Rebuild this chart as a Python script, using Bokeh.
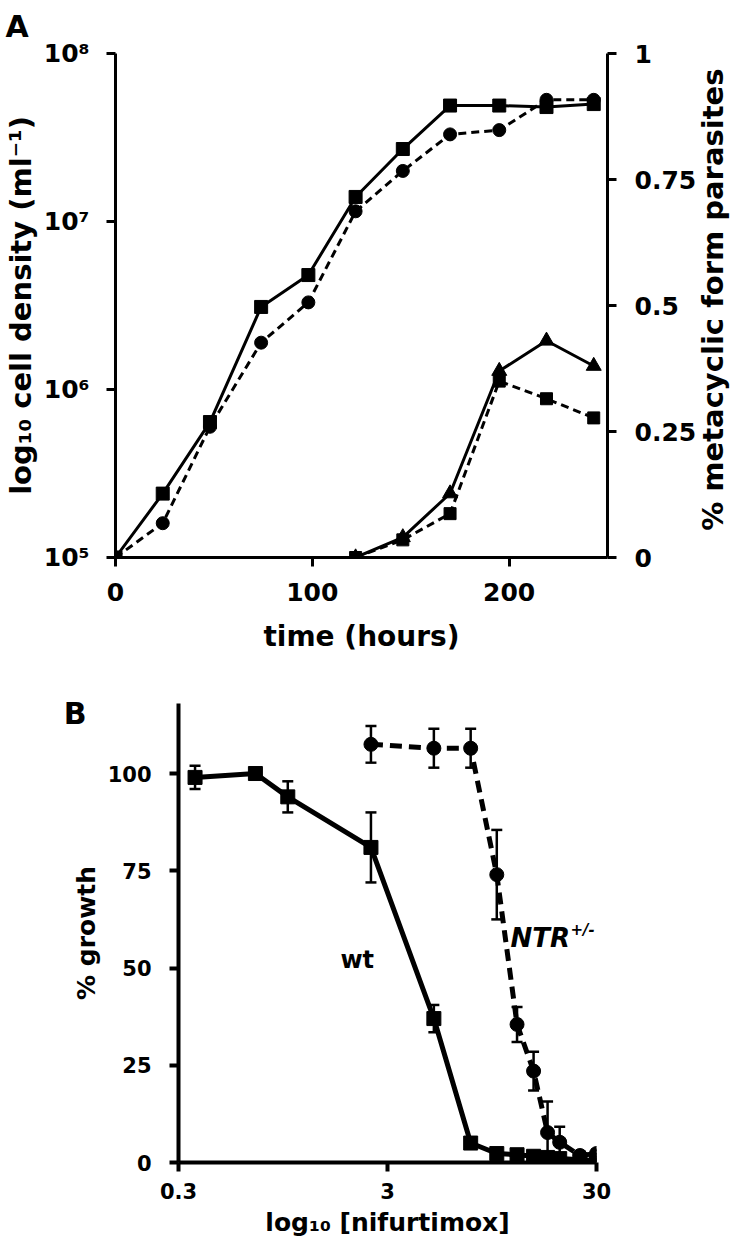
import math
from bokeh.plotting import figure
from bokeh.models import (Range1d, LinearAxis, LinearScale, FixedTicker, Whisker,
                          ColumnDataSource, Label, TeeHead, Title)
from bokeh.embed import file_html
from bokeh.resources import INLINE

# ---------------- Panel A data ----------------
time_h = [0, 24, 48, 74, 98, 122, 146, 170, 195, 219, 243]
density_wt = [1.0e5, 2.4e5, 6.4e5, 3.1e6, 4.8e6, 1.4e7, 2.7e7, 4.9e7, 4.9e7, 4.8e7, 5.0e7]
density_ntr = [1.0e5, 1.6e5, 6.0e5, 1.9e6, 3.3e6, 1.15e7, 2.0e7, 3.3e7, 3.5e7, 5.3e7, 5.3e7]
meta_time = [122, 146, 170, 195, 219, 243]
meta_wt = [0.0, 0.04, 0.127, 0.37, 0.43, 0.38]
meta_ntr = [0.0, 0.035, 0.087, 0.35, 0.315, 0.277]
density_ticks = [1e5, 1e6, 1e7, 1e8]
density_tick_labels = ["10⁵", "10⁶", "10⁷", "10⁸"]
time_ticks = [0, 100, 200]
meta_ticks = [0, 0.25, 0.5, 0.75, 1]
meta_tick_labels = ["0", "0.25", "0.5", "0.75", "1"]

# ---------------- Panel B data ----------------
wt_conc = [0.36, 0.7, 1.0, 2.5, 5.0, 7.5, 10, 12.5, 15, 17.5, 20, 25, 30]
wt_growth = [99, 100, 94, 81, 37, 5, 2.3, 2.0, 1.6, 1.3, 1.0, 0.7, 0.5]
wt_err = [3, 1, 4, 9, 3.5, 1, 0.8, 0.6, 0.5, 0.5, 0.5, 0.4, 0.4]
ntr_conc = [2.5, 5.0, 7.5, 10, 12.5, 15, 17.5, 20, 25, 30]
ntr_growth = [107.5, 106.5, 106.5, 74, 35.5, 23.5, 7.7, 5.2, 1.8, 2.3]
ntr_err = [4.7, 5, 5, 11.5, 4.5, 5, 8, 4, 1, 1]
conc_ticks = [0.3, 3, 30]
conc_tick_labels = ["0.3", "3", "30"]
growth_ticks = [0, 25, 50, 75, 100]

FONT = "DejaVu Sans"
W = 750


def style_axis(ax, tick_size, label_size=25, standoff=12, label_standoff=10, lw=3):
    ax.axis_line_width = lw
    ax.axis_line_color = "black"
    ax.major_tick_line_width = lw
    ax.major_tick_line_color = "black"
    ax.major_tick_in = 0
    ax.major_tick_out = 9
    ax.minor_tick_line_color = None
    ax.major_label_text_font = FONT
    ax.major_label_text_font_style = "bold"
    ax.major_label_text_font_size = f"{tick_size}px"
    ax.major_label_text_color = "black"
    ax.major_label_standoff = standoff
    ax.axis_label_text_font = FONT
    ax.axis_label_text_font_style = "bold"
    ax.axis_label_text_font_size = f"{label_size}px"
    ax.axis_label_text_color = "black"
    ax.axis_label_standoff = label_standoff


def text_axis(ax, size, standoff):
    # an axis used only to carry one text (no line, no tick)
    ax.axis_line_color = None
    ax.major_tick_line_color = None
    ax.minor_tick_line_color = None
    ax.major_tick_in = 0
    ax.major_tick_out = 0
    ax.major_label_text_font = FONT
    ax.major_label_text_font_style = "bold"
    ax.major_label_text_font_size = f"{size}px"
    ax.major_label_text_color = "black"
    ax.major_label_standoff = standoff


def frame_label(p, x, y, text, size, style="bold", baseline="middle"):
    # screen units: pixels from the plot frame's bottom-left corner
    p.add_layout(Label(x=x, y=y, x_units="screen", y_units="screen", text=text,
                       text_align="left", text_baseline=baseline,
                       text_font=FONT, text_font_style=style, text_font_size=f"{size}px",
                       text_color="black"))


# ================= Panel A =================
pA = figure(width=W, height=657, x_range=Range1d(0, 250), y_range=Range1d(1e5, 1e8),
            y_axis_type="log", output_backend="svg", toolbar_location=None,
            min_border_left=115, min_border_right=140, min_border_top=52, min_border_bottom=100)
pA.outline_line_color = None
pA.grid.grid_line_color = None
pA.extra_y_ranges = {"meta": Range1d(0, 1)}
pA.extra_y_scales = {"meta": LinearScale()}

ax_l = pA.yaxis[0]
ax_l.ticker = FixedTicker(ticks=density_ticks)
ax_l.major_label_overrides = dict(zip(density_ticks, density_tick_labels))
ax_l.axis_label = "log₁₀ cell density (ml⁻¹)"
style_axis(ax_l, 25, 29, standoff=17, label_standoff=3)

ax_b = pA.xaxis[0]
ax_b.ticker = FixedTicker(ticks=time_ticks)
ax_b.axis_label = "time (hours)"
style_axis(ax_b, 25, 28, standoff=16, label_standoff=16)

ax_r = LinearAxis(y_range_name="meta", ticker=FixedTicker(ticks=meta_ticks))
ax_r.major_label_overrides = dict(zip(meta_ticks, meta_tick_labels))
style_axis(ax_r, 25, standoff=18)
pA.add_layout(ax_r, "right")

# right-hand title, read bottom-to-top as in the reference
title_start = 0.053
ax_t = LinearAxis(y_range_name="meta", ticker=FixedTicker(ticks=[title_start]))
ax_t.major_label_overrides = {title_start: "% metacyclic form parasites"}
text_axis(ax_t, 29, 14)
ax_t.major_label_orientation = math.pi / 2
pA.add_layout(ax_t, "right")

pA.add_layout(Title(text="A", align="left", offset=-110, vertical_align="top", standoff=16,
                    text_font=FONT, text_font_style="bold", text_font_size="30px",
                    text_color="black"), "above")

srcA = ColumnDataSource(dict(t=time_h, wt=density_wt, ntr=density_ntr))
pA.line("t", "ntr", source=srcA, line_color="black", line_width=3, line_dash="8 5")
pA.scatter("t", "ntr", source=srcA, marker="circle", size=13, color="black")
pA.line("t", "wt", source=srcA, line_color="black", line_width=3)
pA.scatter("t", "wt", source=srcA, marker="square", size=13, color="black")

srcM = ColumnDataSource(dict(t=meta_time, wt=meta_wt, ntr=meta_ntr))
pA.line("t", "ntr", source=srcM, y_range_name="meta", line_color="black", line_width=3, line_dash="8 5")
pA.scatter("t", "ntr", source=srcM, y_range_name="meta", marker="square", size=12, color="black")
pA.line("t", "wt", source=srcM, y_range_name="meta", line_color="black", line_width=3)
pA.scatter("t", "wt", source=srcM, y_range_name="meta", marker="triangle", size=15, color="black")

# ================= Panel B =================
pB = figure(width=W, height=584, x_range=Range1d(0.3, 30), y_range=Range1d(0, 118),
            x_axis_type="log", output_backend="svg", toolbar_location=None,
            min_border_left=178, min_border_right=154, min_border_top=46, min_border_bottom=79)
pB.outline_line_color = None
pB.grid.grid_line_color = None

bx = pB.xaxis[0]
bx.ticker = FixedTicker(ticks=conc_ticks)
bx.major_label_overrides = dict(zip(conc_ticks, conc_tick_labels))
bx.axis_label = "log₁₀ [nifurtimox]"
style_axis(bx, 21, 25, standoff=11, label_standoff=6, lw=4)

by = pB.yaxis[0]
by.ticker = FixedTicker(ticks=growth_ticks)
by.axis_label = "% growth"
style_axis(by, 21, 25, standoff=18, label_standoff=4, lw=4)

# panel letter "B", carried by a bare axis left of the % growth axis
letter_pos = 115.5
ax_letter = LinearAxis(ticker=FixedTicker(ticks=[letter_pos]))
ax_letter.major_label_overrides = {letter_pos: "B"}
text_axis(ax_letter, 30, -18)
pB.add_layout(ax_letter, "left")

srcW = ColumnDataSource(dict(x=wt_conc, y=wt_growth,
                             lo=[g - e for g, e in zip(wt_growth, wt_err)],
                             hi=[g + e for g, e in zip(wt_growth, wt_err)]))
srcN = ColumnDataSource(dict(x=ntr_conc, y=ntr_growth,
                             lo=[g - e for g, e in zip(ntr_growth, ntr_err)],
                             hi=[g + e for g, e in zip(ntr_growth, ntr_err)]))
for src in (srcW, srcN):
    pB.add_layout(Whisker(source=src, base="x", upper="hi", lower="lo",
                          line_color="black", line_width=2.5,
                          upper_head=TeeHead(size=11, line_width=2.5, line_color="black"),
                          lower_head=TeeHead(size=11, line_width=2.5, line_color="black")))

pB.line("x", "y", source=srcN, line_color="black", line_width=5, line_dash="12 7")
pB.scatter("x", "y", source=srcN, marker="circle", size=14, color="black")
pB.line("x", "y", source=srcW, line_color="black", line_width=5)
pB.scatter("x", "y", source=srcW, marker="square", size=14, color="black")

pB.add_layout(Label(x=2.15, y=52, text="wt", text_align="center", text_baseline="middle",
                    text_font=FONT, text_font_style="bold", text_font_size="24px",
                    text_color="black"))
frame_label(pB, 332, 225, "NTR", 26, style="bold italic")
frame_label(pB, 392, 233, "+/-", 15, style="bold italic")

open("out.html", "w").write(file_html([pA, pB], INLINE))
